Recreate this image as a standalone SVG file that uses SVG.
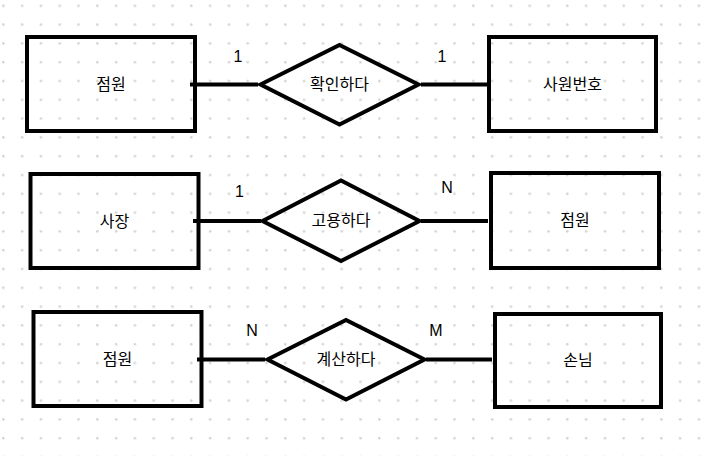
<svg xmlns="http://www.w3.org/2000/svg" width="704" height="456" viewBox="0 0 704 456">
<defs>
<pattern id="dots" x="2" y="4.5" width="18.8" height="18.8" patternUnits="userSpaceOnUse">
<circle cx="1.3" cy="1.3" r="1.3" fill="#d4d4d4"/>
</pattern>
</defs>
<style>
.ent{fill:none;stroke:#000;stroke-width:4}
.rel{fill:none;stroke:#000;stroke-width:4;stroke-linejoin:miter}
.ln{stroke:#000;stroke-width:4;fill:none}
.t{font-family:"Liberation Sans","Noto Sans CJK KR",sans-serif;font-size:16px;fill:#000;text-anchor:middle;dominant-baseline:central}
.c{font-family:"Liberation Sans","Noto Sans CJK KR",sans-serif;font-size:16px;fill:#000;text-anchor:middle}
</style>
<rect width="704" height="456" fill="#fff"/>
<rect width="704" height="456" fill="url(#dots)"/>
<g id="connectors">
<line class="ln" x1="190" y1="84.5" x2="258" y2="84.5"/>
<line class="ln" x1="421" y1="84.5" x2="487" y2="84.5"/>
<line class="ln" x1="193" y1="221" x2="261" y2="221"/>
<line class="ln" x1="421" y1="221" x2="488" y2="221"/>
<line class="ln" x1="197" y1="359.5" x2="265" y2="359.5"/>
<line class="ln" x1="426" y1="359.5" x2="492" y2="359.5"/>
<text class="c" x="238" y="62">1</text>
<text class="c" x="442" y="62">1</text>
<text class="c" x="239.5" y="197">1</text>
<text class="c" x="447" y="193">N</text>
<text class="c" x="252" y="336">N</text>
<text class="c" x="436" y="336">M</text>
</g>
<g id="e1">
<rect class="ent" x="27" y="37" width="168" height="94"/>
<text class="t" x="111" y="84">점원</text>
</g>
<g id="r1">
<polygon class="rel" points="260.5,84.5 339.5,45 418.5,84.5 339.5,124.5"/>
<text class="t" x="339.5" y="84">확인하다</text>
</g>
<g id="e2">
<rect class="ent" x="489" y="37" width="167" height="94"/>
<text class="t" x="572.5" y="84">사원번호</text>
</g>
<g id="e3">
<rect class="ent" x="30.5" y="174" width="168" height="94"/>
<text class="t" x="114.5" y="221">사장</text>
</g>
<g id="r2">
<polygon class="rel" points="262.5,221 341,180.5 419.5,221 341,261"/>
<text class="t" x="341" y="220.5">고용하다</text>
</g>
<g id="e4">
<rect class="ent" x="491" y="173" width="168" height="95"/>
<text class="t" x="575" y="220.5">점원</text>
</g>
<g id="e5">
<rect class="ent" x="33.5" y="312" width="168" height="94"/>
<text class="t" x="117.5" y="359">점원</text>
</g>
<g id="r3">
<polygon class="rel" points="267.5,359.5 346,320 424.5,359.5 346,399.5"/>
<text class="t" x="346" y="359">계산하다</text>
</g>
<g id="e6">
<rect class="ent" x="495" y="314" width="166" height="93"/>
<text class="t" x="578" y="360">손님</text>
</g>
</svg>
